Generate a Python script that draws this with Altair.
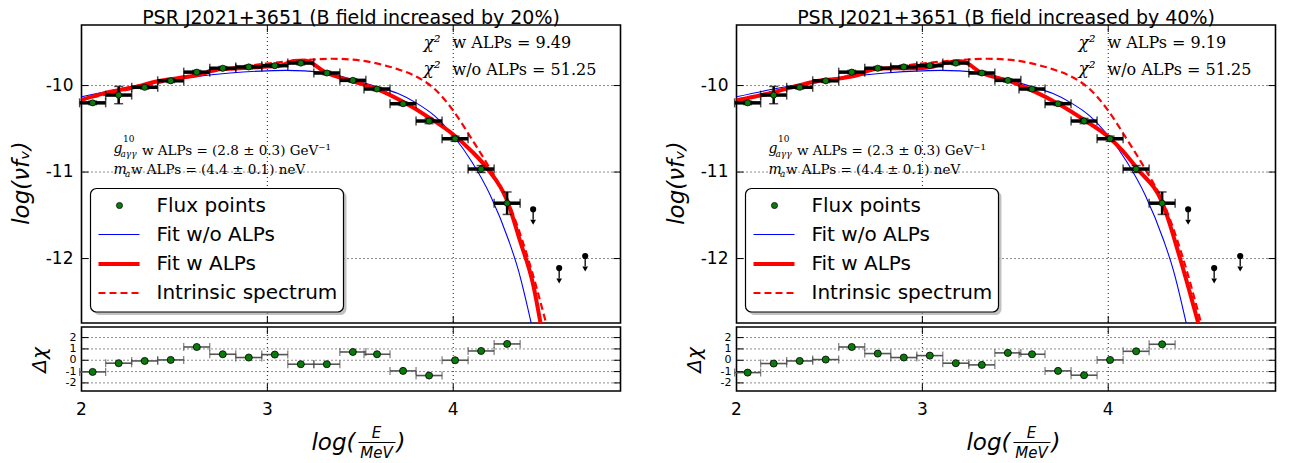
import altair as alt
import pandas as pd

# ---------------- data ----------------
log_e = [2.06, 2.20, 2.34, 2.48, 2.62, 2.76, 2.90, 3.04, 3.18, 3.32, 3.46, 3.59, 3.73, 3.87, 4.01, 4.15, 4.29]
log_flux = [-10.20, -10.11, -10.02, -9.945, -9.845, -9.80, -9.785, -9.77, -9.74, -9.855, -9.94, -10.04,
            -10.21, -10.41, -10.615, -10.965, -11.36]
flux_err = [0.02, 0.10, 0.02, 0.02, 0.02, 0.02, 0.02, 0.02, 0.02, 0.02, 0.02, 0.02, 0.02, 0.03, 0.03, 0.04, 0.13]
HALF_BIN = 0.07

ul_e = [4.43, 4.57, 4.71]
ul_f = [-11.43, -12.11, -11.97]

res_20 = [-1.03, -0.26, -0.06, 0.03, 1.17, 0.53, 0.24, 0.50, -0.35, -0.35, 0.73, 0.53, -0.94, -1.35, 0.00, 0.82, 1.44]
res_40 = [-1.09, -0.29, -0.06, 0.06, 1.17, 0.59, 0.24, 0.41, -0.26, -0.41, 0.65, 0.53, -0.94, -1.32, 0.03, 0.79, 1.41]

noalp_e = [2.0, 2.2, 2.4, 2.6, 2.8, 3.0, 3.1, 3.2, 3.3, 3.4, 3.5, 3.6, 3.7, 3.8, 3.9, 4.0, 4.1, 4.2, 4.3, 4.35, 4.42]
noalp_f = [-10.13, -10.04, -9.965, -9.90, -9.855, -9.83, -9.825, -9.83, -9.85, -9.895, -9.955, -10.02, -10.09,
           -10.20, -10.35, -10.58, -10.88, -11.27, -11.80, -12.13, -12.75]

intr_e = [2.0, 2.2, 2.4, 2.6, 2.8, 3.0, 3.2, 3.35, 3.5, 3.6, 3.7, 3.8, 3.9, 4.0, 4.1, 4.2, 4.3, 4.4, 4.5]
intr_f = [-10.165, -10.07, -9.975, -9.89, -9.80, -9.745, -9.705, -9.69, -9.71, -9.75, -9.81, -9.895, -10.04,
          -10.29, -10.62, -10.97, -11.37, -11.98, -12.75]

alp20_e = [2.0, 2.13, 2.28, 2.41, 2.55, 2.66, 2.71, 2.85, 3.0, 3.08, 3.14, 3.20, 3.32, 3.46, 3.60, 3.74, 3.87,
           4.0, 4.1, 4.18, 4.29, 4.36, 4.43, 4.47]
alp20_f = [-10.165, -10.085, -10.02, -9.95, -9.905, -9.86, -9.815, -9.80, -9.78, -9.765, -9.715, -9.71, -9.855,
           -9.95, -10.05, -10.20, -10.37, -10.565, -10.76, -10.95, -11.33, -11.80, -12.30, -12.75]

alp40_e = [2.0, 2.14, 2.28, 2.43, 2.55, 2.68, 2.72, 2.86, 2.98, 3.06, 3.12, 3.21, 3.32, 3.47, 3.59, 3.735, 3.88,
           4.005, 4.08, 4.16, 4.29, 4.38, 4.44, 4.485]
alp40_f = [-10.17, -10.11, -10.03, -9.95, -9.92, -9.86, -9.815, -9.80, -9.80, -9.78, -9.74, -9.72, -9.855, -9.95,
           -10.055, -10.215, -10.41, -10.60, -10.76, -10.97, -11.35, -11.95, -12.40, -12.75]

y_ticks_main = [-12, -11, -10]
y_ticks_res = [-2, -1, 0, 1, 2]
x_ticks = [2, 3, 4]

titles = ["PSR J2021+3651 (B field increased by 20%)", "PSR J2021+3651 (B field increased by 40%)"]
chi2_w = ["9.49", "9.19"]
chi2_wo = "51.25"
g_vals = ["(2.8 ± 0.3)", "(2.3 ± 0.3)"]
m_val = "(4.4 ± 0.1)"
legend_labels = ["Flux points", "Fit w/o ALPs", "Fit w ALPs", "Intrinsic spectrum"]

# ---------------- style / layout ----------------
W, H_MAIN, H_RES = 539, 298, 64
TICK = 7
XS = alt.Scale(domain=[2.0, 4.9], nice=False, zero=False)
YS_MAIN = alt.Scale(domain=[-12.745, -9.30], nice=False, zero=False)
YS_RES = alt.Scale(domain=[-2.714, 2.935], nice=False, zero=False)
GREEN = "#0a7a0a"
SERIF = "DejaVu Serif"
SANS = "DejaVu Sans"
one = pd.DataFrame({"k": [0]})


def XQ(f):
    return alt.X(f, type="quantitative", scale=XS, axis=None)


def YM(f):
    return alt.Y(f, type="quantitative", scale=YS_MAIN, axis=None)


def YR(f):
    return alt.Y(f, type="quantitative", scale=YS_RES, axis=None)


def txt(s, x, y, size, font=SERIF, style="normal", align="left", baseline="alphabetic", angle=0):
    return alt.Chart(one).mark_text(text=s, font=font, fontSize=size, fontStyle=style, align=align,
                                    baseline=baseline, angle=angle, color="black").encode(
        x=alt.value(x), y=alt.value(y))


def frame_layers(yvals, Yf, h, ylab_x, ylab_size):
    dy = pd.DataFrame({"v": yvals, "lab": [str(v) for v in yvals]})
    dx = pd.DataFrame({"v": x_ticks})
    grid_h = alt.Chart(dy).mark_rule(color="black", strokeWidth=0.9, strokeDash=[1, 3]).encode(y=Yf("v"))
    grid_v = alt.Chart(dx).mark_rule(color="black", strokeWidth=0.9, strokeDash=[1, 3]).encode(x=XQ("v"))
    tl = alt.Chart(dy).mark_rule(color="black", strokeWidth=1).encode(y=Yf("v"), x=alt.value(0), x2=alt.value(TICK))
    tr = alt.Chart(dy).mark_rule(color="black", strokeWidth=1).encode(y=Yf("v"), x=alt.value(W - TICK), x2=alt.value(W))
    tb = alt.Chart(dx).mark_rule(color="black", strokeWidth=1).encode(x=XQ("v"), y=alt.value(h - TICK), y2=alt.value(h))
    tt = alt.Chart(dx).mark_rule(color="black", strokeWidth=1).encode(x=XQ("v"), y=alt.value(0), y2=alt.value(TICK))
    ylab = alt.Chart(dy).mark_text(font=SANS, fontSize=ylab_size, align="right", baseline="middle",
                                   color="black").encode(y=Yf("v"), x=alt.value(ylab_x), text="lab:N")
    return [grid_h, grid_v, tl, tr, tb, tt, ylab]


def main_panel(i, alp_e, alp_f):
    layers = frame_layers(y_ticks_main, YM, H_MAIN, -8, 17)
    layers.append(txt("log(νfᵥ)", -60, 158, 23, font=SANS, style="italic", align="center", baseline="middle",
                      angle=270))

    blue = alt.Chart(pd.DataFrame({"e": noalp_e, "f": noalp_f})).mark_line(
        color="#0000ff", strokeWidth=1.1, interpolate="monotone", clip=True).encode(x=XQ("e"), y=YM("f"))
    red = alt.Chart(pd.DataFrame({"e": alp_e, "f": alp_f})).mark_line(
        color="#ff0000", strokeWidth=4, interpolate="monotone", clip=True).encode(x=XQ("e"), y=YM("f"))
    dash = alt.Chart(pd.DataFrame({"e": intr_e, "f": intr_f})).mark_line(
        color="#ff0000", strokeWidth=2.2, strokeDash=[7, 4], interpolate="monotone", clip=True).encode(
        x=XQ("e"), y=YM("f"))

    pts = pd.DataFrame({"e": log_e, "f": log_flux, "err": flux_err})
    pts["lo"] = pts["e"] - HALF_BIN
    pts["hi"] = pts["e"] + HALF_BIN
    pts["flo"] = pts["f"] - pts["err"]
    pts["fhi"] = pts["f"] + pts["err"]
    base = alt.Chart(pts)
    xbar = base.mark_rule(color="black", strokeWidth=3.5).encode(x=XQ("lo"), x2="hi", y=YM("f"))
    xcap1 = base.mark_tick(orient="vertical", color="black", size=9, thickness=1.5).encode(x=XQ("lo"), y=YM("f"))
    xcap2 = base.mark_tick(orient="vertical", color="black", size=9, thickness=1.5).encode(x=XQ("hi"), y=YM("f"))
    ybar = base.mark_rule(color="black", strokeWidth=2.5).encode(x=XQ("e"), y=YM("flo"), y2="fhi")
    ycap1 = base.mark_tick(orient="horizontal", color="black", size=9, thickness=1.5).encode(x=XQ("e"), y=YM("flo"))
    ycap2 = base.mark_tick(orient="horizontal", color="black", size=9, thickness=1.5).encode(x=XQ("e"), y=YM("fhi"))
    dots = base.mark_point(shape="circle", filled=True, fill=GREEN, stroke="black", strokeWidth=0.7,
                           size=38, opacity=1).encode(x=XQ("e"), y=YM("f"))

    ul = pd.DataFrame({"e": ul_e, "f": ul_f})
    ul["f_end"] = ul["f"] - 0.12
    ul["f_head"] = ul["f"] - 0.15
    ubase = alt.Chart(ul)
    ul_line = ubase.mark_rule(color="black", strokeWidth=1.3).encode(x=XQ("e"), y=YM("f"), y2="f_end")
    ul_head = ubase.mark_point(shape="triangle-down", filled=True, color="black", size=32, opacity=1).encode(
        x=XQ("e"), y=YM("f_head"))
    ul_dot = ubase.mark_point(shape="circle", filled=True, color="black", size=38, opacity=1).encode(
        x=XQ("e"), y=YM("f"))

    # legend box
    shadow = alt.Chart(one).mark_rect(fill="#999999", opacity=0.6, cornerRadius=6).encode(
        x=alt.value(12), x2=alt.value(265), y=alt.value(166), y2=alt.value(290))
    box = alt.Chart(one).mark_rect(fill="white", stroke="black", strokeWidth=1.2, cornerRadius=6).encode(
        x=alt.value(9), x2=alt.value(262), y=alt.value(163.5), y2=alt.value(287))
    ly = [180.5, 209.5, 239, 268]
    lg_dot = alt.Chart(one).mark_point(shape="circle", filled=True, fill=GREEN, stroke="black", strokeWidth=0.7,
                                       size=38, opacity=1).encode(x=alt.value(38), y=alt.value(ly[0]))
    lg_blue = alt.Chart(one).mark_rule(color="#0000ff", strokeWidth=1.1).encode(
        x=alt.value(17), x2=alt.value(58), y=alt.value(ly[1]))
    lg_red = alt.Chart(one).mark_rule(color="#ff0000", strokeWidth=4).encode(
        x=alt.value(17), x2=alt.value(58), y=alt.value(ly[2]))
    lg_dash = alt.Chart(one).mark_rule(color="#ff0000", strokeWidth=2.2, strokeDash=[7, 4]).encode(
        x=alt.value(17), x2=alt.value(58), y=alt.value(ly[3]))
    lg_txt = [txt(legend_labels[k], 75, ly[k], 20, font=SANS, baseline="middle") for k in range(4)]

    annot = [
        txt("χ²", 342, 22.5, 17, style="italic"),
        txt("w ALPs = " + chi2_w[i], 371, 23, 16),
        txt("χ²", 342, 49, 17, style="italic"),
        txt("w/o ALPs = " + chi2_wo, 371, 49.5, 16),
        txt("g", 32, 128, 14, style="italic"),
        txt("10", 41.5, 117, 9),
        txt("aγγ", 39, 132, 9, style="italic"),
        txt("w ALPs = " + g_vals[i] + " GeV⁻¹", 60.5, 129.5, 13.5),
        txt("m", 32, 148.5, 14, style="italic"),
        txt("a", 43.5, 152, 9, style="italic"),
        txt("w ALPs = " + m_val + " neV", 49.5, 148.5, 13.5),
        txt(titles[i], W / 2, -1, 19, font=SANS, align="center"),
    ]

    layers += [blue, red, dash, xbar, xcap1, xcap2, ybar, ycap1, ycap2, dots, ul_line, ul_head, ul_dot,
               shadow, box, lg_dot, lg_blue, lg_red, lg_dash] + lg_txt + annot
    return alt.layer(*layers).properties(width=W, height=H_MAIN)


def res_panel(res):
    layers = frame_layers(y_ticks_res, YR, H_RES, -5, 11)
    layers.append(txt("Δχ", -42, 33, 20, font=SANS, style="italic", align="center", baseline="middle",
                      angle=270))
    dx = pd.DataFrame({"v": x_ticks, "lab": [str(v) for v in x_ticks]})
    xlab = alt.Chart(dx).mark_text(font=SANS, fontSize=17, align="center", baseline="middle",
                                   color="black").encode(x=XQ("v"), y=alt.value(H_RES + 18.5), text="lab:N")
    d = pd.DataFrame({"e": log_e, "r": res})
    d["lo"] = d["e"] - HALF_BIN
    d["hi"] = d["e"] + HALF_BIN
    b = alt.Chart(d)
    xbar = b.mark_rule(color="#555555", strokeWidth=1.6).encode(x=XQ("lo"), x2="hi", y=YR("r"))
    c1 = b.mark_tick(orient="vertical", color="#444444", size=8, thickness=1.2).encode(x=XQ("lo"), y=YR("r"))
    c2 = b.mark_tick(orient="vertical", color="#444444", size=8, thickness=1.2).encode(x=XQ("hi"), y=YR("r"))
    dots = b.mark_point(shape="circle", filled=True, fill=GREEN, stroke="black", strokeWidth=0.8,
                        size=50, opacity=1).encode(x=XQ("e"), y=YR("r"))
    xt = [
        txt("log(", 274, 123, 23, font=SANS, style="italic", align="right"),
        txt("E", 295, 111, 15, font=SANS, style="italic", align="center"),
        txt("MeV", 295, 131, 15, font=SANS, style="italic", align="center"),
        alt.Chart(one).mark_rule(color="black", strokeWidth=1).encode(
            x=alt.value(277), x2=alt.value(314), y=alt.value(115.5)),
        txt(")", 315, 123, 23, font=SANS, style="italic", align="left"),
    ]
    layers += [xlab, xbar, c1, c2, dots] + xt
    return alt.layer(*layers).properties(width=W, height=H_RES)


panels = []
for i, (ae, af, rs) in enumerate([(alp20_e, alp20_f, res_20), (alp40_e, alp40_f, res_40)]):
    panels.append(alt.vconcat(main_panel(i, ae, af), res_panel(rs), spacing=0))

chart = alt.hconcat(*panels, spacing=42).properties(
    padding={"left": 1.5, "top": 0, "right": 0, "bottom": 0}
).configure_view(stroke="black", strokeWidth=1.6)

chart.save("out.html", embed_options={"renderer": "svg", "actions": False})
